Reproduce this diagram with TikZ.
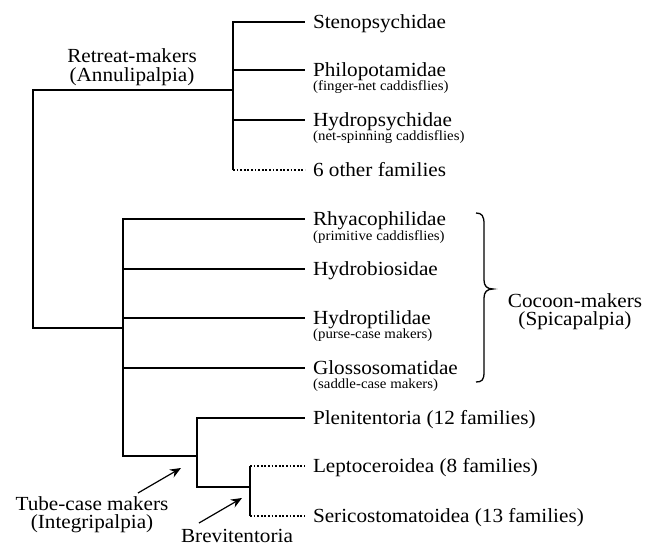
\documentclass[tikz,border=0pt]{standalone}
\usepackage{fontspec}
\setmainfont{Liberation Serif}[FakeStretch=1.06]
\usetikzlibrary{arrows.meta}
\begin{document}
\begin{tikzpicture}[x=1pt,y=-1pt,
  branch/.style={line width=2.3pt},
  dotline/.style={line width=1.7pt, dash pattern=on 1.8pt off 1.8pt},
  arr/.style={line width=1.2pt, -{Stealth[length=11pt,width=9pt]}},
  mainlbl/.style={anchor=west, inner sep=0pt, outer xsep=8pt, text height=15pt, text depth=3pt, font=\fontsize{20}{17}\selectfont},
  sublbl/.style={anchor=base west, inner sep=0pt, font=\fontsize{14}{16}\selectfont},
  grplbl/.style={align=center, inner sep=0pt, anchor=base, font=\fontsize{20}{18}\selectfont}]
\useasboundingbox (0,0) rectangle (657,546);

% leaf labels
\node[mainlbl] (sten)   at (305,22)  {Stenopsychidae};
\node[mainlbl] (philo)  at (305,70)  {Philopotamidae};
\node[sublbl]  (philos) at (313,90)  {(finger-net caddisflies)};
\node[mainlbl] (hydro)  at (305,120) {Hydropsychidae};
\node[sublbl]  (hydros) at (313,140) {(net-spinning caddisflies)};
\node[mainlbl] (six)    at (305,170) {6 other families};
\node[mainlbl] (rhya)   at (305,219) {Rhyacophilidae};
\node[sublbl]  (rhyas)  at (313,240) {(primitive caddisflies)};
\node[mainlbl] (hbio)   at (305,269) {Hydrobiosidae};
\node[mainlbl] (hptil)  at (305,318) {Hydroptilidae};
\node[sublbl]  (hptils) at (313,338) {(purse-case makers)};
\node[mainlbl] (glos)   at (305,368) {Glossosomatidae};
\node[sublbl]  (gloss)  at (313,388) {(saddle-case makers)};
\node[mainlbl] (pleni)  at (305,418) {Plenitentoria (12 families)};
\node[mainlbl] (lepto)  at (305,466) {Leptoceroidea (8 families)};
\node[mainlbl] (seri)   at (305,516) {Sericostomatoidea (13 families)};

% group labels (anchor = baseline of last line)
\node[grplbl] (retreat) at (132,81)  {Retreat-makers\\(Annulipalpia)};
\node[grplbl] (cocoon)  at (575,325) {Cocoon-makers\\(Spicapalpia)};
\node[grplbl] (tube)    at (92,528)  {Tube-case makers\\(Integripalpia)};
\node[grplbl] (brevi)   at (237,542) {Brevitentoria};

% internal nodes
\coordinate (nA)   at (233,90);
\coordinate (root) at (33,200);
\coordinate (nS)   at (123,328);
\coordinate (nI)   at (197,456);
\coordinate (nB)   at (250,487);
\coordinate (c6)   at (233,170);
\coordinate (cL)   at (250,466);
\coordinate (cSe)  at (250,516);

% tree
\draw[branch] (nA) -| (root) |- (nS);
\draw[branch] (nA) |- (sten.west);
\draw[branch] (nA) |- (philo.west);
\draw[branch] (nA) |- (hydro.west);
\draw[branch] (nA) -- (c6);
\draw[dotline] (c6) -- (six.west);
\draw[branch] (nS) |- (rhya.west);
\draw[branch] (nS) |- (hbio.west);
\draw[branch] (nS) |- (hptil.west);
\draw[branch] (nS) |- (glos.west);
\draw[branch] (nS) |- (nI);
\draw[branch] (nI) |- (pleni.west);
\draw[branch] (nI) |- (nB);
\draw[branch] (cL) -- (cSe);
\draw[dotline] (cL) -- (lepto.west);
\draw[dotline] (cSe) -- (seri.west);

% brace
\draw[line width=1.3pt] (476,213) .. controls (482,213) and (484,216) .. (484,224)
  -- (484,280) .. controls (484,286) and (487,289) .. (493,289)
  .. controls (487,289) and (484,292) .. (484,298)
  -- (484,372) .. controls (484,380) and (482,382) .. (476,382);

% arrows
\coordinate (tubeTail) at (138,493);
\coordinate (tubeHead) at (181,468);
\coordinate (brTail) at (199,523);
\coordinate (brHead) at (242,498);
\draw[arr] (tubeTail) -- (tubeHead);
\draw[arr] (brTail) -- (brHead);
\end{tikzpicture}
\end{document}
